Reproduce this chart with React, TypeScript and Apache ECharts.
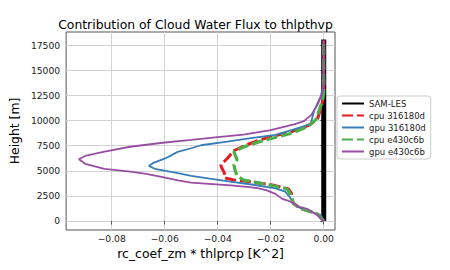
import React, { useEffect, useRef } from "react";
import * as echarts from "echarts";

const FONT = '"DejaVu Sans", "Liberation Sans", sans-serif';

const seriesNames = ["SAM-LES", "cpu 316180d", "gpu 316180d", "cpu e430c6b", "gpu e430c6b"];

const xTickValues = [-0.08, -0.06, -0.04, -0.02, 0];
const yTickValues = [0, 2500, 5000, 7500, 10000, 12500, 15000, 17500];

// SAM-LES
const samX = [0, 0];
const samZ = [0, 18100];

// cpu 316180d
const cpu316X = [0, -0.0024, -0.0092, -0.0115, -0.0121, -0.0121, -0.0133, -0.0194, -0.0279, -0.0339, -0.0376, -0.0375, -0.0385, -0.0388, -0.0365, -0.0339, -0.03, -0.0242, -0.0121, -0.006, -0.0024, -0.0006, 0, 0];
const cpu316Z = [0, 700, 1300, 1770, 2300, 2700, 3200, 3590, 3920, 4090, 4300, 4800, 5300, 5600, 6200, 7000, 7500, 8080, 8910, 9500, 10100, 11700, 12700, 18000];

// gpu 316180d
const gpu316X = [0, -0.0012, -0.0075, -0.011, -0.0122, -0.0127, -0.0145, -0.0182, -0.0279, -0.036, -0.045, -0.05, -0.056, -0.0633, -0.066, -0.0645, -0.0596, -0.056, -0.0548, -0.05, -0.0463, -0.0364, -0.0275, -0.0182, -0.0097, -0.005, -0.0036, -0.0012, 0, 0];
const gpu316Z = [0, 600, 1100, 1600, 2100, 2350, 2930, 3260, 3660, 3950, 4300, 4490, 4820, 5160, 5490, 5760, 6260, 6760, 6920, 7250, 7550, 7910, 8250, 8580, 9250, 9650, 11000, 12400, 13500, 18000];

// cpu e430c6b
const cpuE43X = [0, -0.0024, -0.0092, -0.0115, -0.0121, -0.0135, -0.0145, -0.0218, -0.0303, -0.0327, -0.0335, -0.0339, -0.0327, -0.0339, -0.03, -0.0242, -0.0121, -0.006, -0.003, -0.0006, 0, 0];
const cpuE43Z = [0, 700, 1300, 1770, 2430, 3100, 3260, 3660, 4090, 4500, 5100, 5590, 6090, 6920, 7400, 7910, 8750, 9400, 10100, 11880, 12700, 18000];

// gpu e430c6b
const gpuE43X = [0, -0.0025, -0.006, -0.0097, -0.0112, -0.0135, -0.0157, -0.0182, -0.0215, -0.0245, -0.028, -0.035, -0.042, -0.05, -0.055, -0.0608, -0.067, -0.073, -0.0827, -0.09, -0.0924, -0.09, -0.0827, -0.073, -0.0608, -0.05, -0.04, -0.0303, -0.02, -0.0109, -0.0075, -0.0048, -0.0024, -0.0006, 0, 0];
const gpuE43Z = [0, 600, 1170, 1450, 1770, 2030, 2200, 2700, 3050, 3250, 3380, 3550, 3680, 3820, 4050, 4380, 4700, 4920, 5200, 5700, 6150, 6480, 6920, 7400, 7800, 8080, 8350, 8600, 9050, 9650, 9950, 10550, 11550, 12700, 13500, 18000];

const pairs = (xs: number[], zs: number[]) => xs.map((x, i) => [x, zs[i]]);

export default function App() {
  const ref = useRef<HTMLDivElement>(null);
  useEffect(() => {
    if (!ref.current) return;
    const chart = echarts.init(ref.current, null, { renderer: "svg" });
    const mk = (name: string, data: number[][], color: string, width: number, dashed: boolean, z: number) => ({
      name,
      type: "line",
      data,
      symbol: "none",
      showSymbol: false,
      z,
      lineStyle: { color, width, type: dashed ? [11, 4] : "solid", cap: "butt" },
      itemStyle: { color },
      emphasis: { disabled: true },
    });
    chart.setOption({
      animation: false,
      graphic: [
        {
          type: "text",
          x: 195.5,
          y: 24.5,
          style: {
            text: "Contribution of Cloud Water Flux to thlpthvp",
            fill: "#000",
            font: `12.4px ${FONT}`,
            textAlign: "center",
            textVerticalAlign: "middle",
          },
        },
      ],
      grid: { left: 56, right: 115, top: 32, bottom: 40, show: true, borderColor: "#555", borderWidth: 1 },
      legend: {
        orient: "vertical",
        left: 337,
        top: 96,
        itemWidth: 22,
        itemHeight: 10,
        itemGap: 3,
        padding: [3, 5, 3, 4],
        borderColor: "#ccc",
        borderWidth: 1,
        borderRadius: 3,
        backgroundColor: "#fff",
        itemStyle: { opacity: 0, borderWidth: 0 },
        textStyle: { fontSize: 8.5, fontFamily: FONT, color: "#222" },
        data: seriesNames,
      },
      xAxis: {
        type: "value",
        min: -0.0972,
        max: 0.00425,
        name: "rc_coef_zm * thlprcp [K^2]",
        nameLocation: "middle",
        nameGap: 16,
        nameTextStyle: { fontSize: 12.4, fontFamily: FONT, color: "#000" },
        axisLine: { show: false },
        axisTick: { show: true, inside: false, length: 3.5, lineStyle: { color: "#555" }, customValues: xTickValues },
        axisLabel: {
          fontSize: 9.2,
          fontFamily: FONT,
          color: "#222",
          margin: 4,
          customValues: xTickValues,
          formatter: (v: number) => (Math.abs(v) < 1e-9 ? "0.00" : v.toFixed(2).replace("-", "\u2212")),
        },
        splitLine: { show: true, lineStyle: { color: "#d3d3d3", width: 1 } },
      },
      yAxis: {
        type: "value",
        min: -900,
        max: 18840,
        name: "Height [m]",
        nameLocation: "middle",
        nameGap: 40,
        nameRotate: 90,
        nameTextStyle: { fontSize: 12.4, fontFamily: FONT, color: "#000" },
        axisLine: { show: false },
        axisTick: { show: true, inside: false, length: 3.5, lineStyle: { color: "#555" }, customValues: yTickValues },
        axisLabel: {
          fontSize: 9.2,
          fontFamily: FONT,
          color: "#222",
          margin: 6,
          customValues: yTickValues,
          formatter: (v: number) => String(Math.round(v)),
        },
        splitLine: { show: true, lineStyle: { color: "#d3d3d3", width: 1 } },
      },
      series: [
        mk(seriesNames[0], pairs(samX, samZ), "#000000", 5, false, 2),
        mk(seriesNames[1], pairs(cpu316X, cpu316Z), "#e41a1c", 3, true, 3),
        mk(seriesNames[2], pairs(gpu316X, gpu316Z), "#377eb8", 1.8, false, 4),
        mk(seriesNames[3], pairs(cpuE43X, cpuE43Z), "#4daf4a", 3.2, true, 5),
        mk(seriesNames[4], pairs(gpuE43X, gpuE43Z), "#984ea3", 1.8, false, 6),
      ],
    });
    return () => chart.dispose();
  }, []);
  return <div ref={ref} style={{ width: 450, height: 270, position: "absolute", left: 0, top: 0 }} />;
}
